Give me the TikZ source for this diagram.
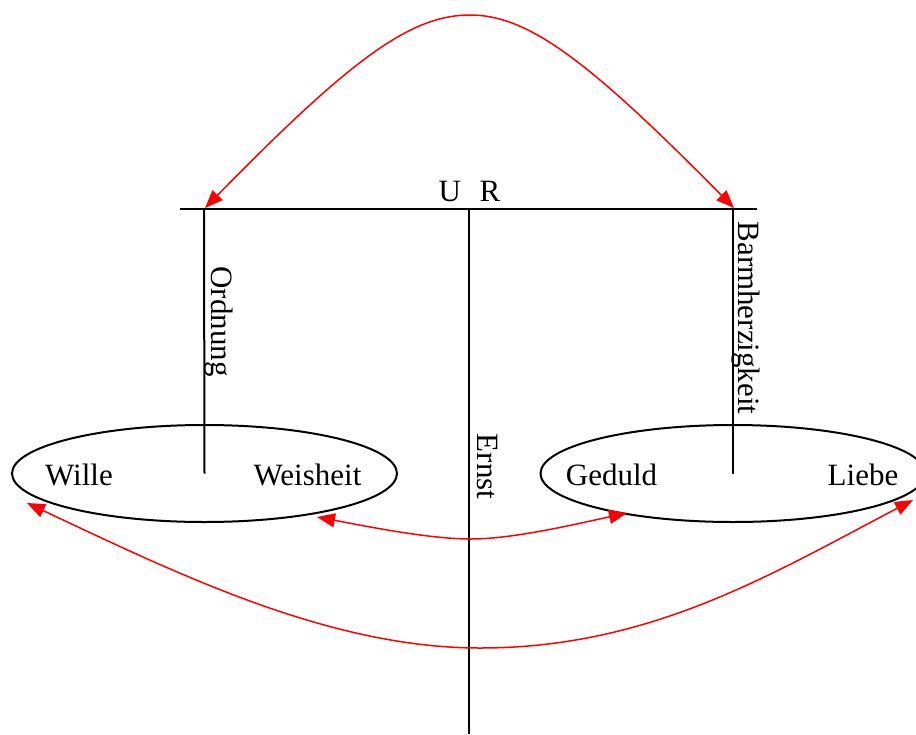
\documentclass[tikz,border=0pt]{standalone}
\usepackage{fontspec}
\setmainfont{Liberation Serif}
\usetikzlibrary{shapes.geometric,arrows.meta}
\begin{document}
\begin{tikzpicture}[x=0.5pt,y=-0.5pt,
  blk/.style={line width=1pt,black},
  oval/.style={ellipse,draw,line width=1pt,inner sep=0pt,outer sep=0pt,minimum width=192.5pt,minimum height=48.5pt},
  lbl/.style={font=\fontsize{15.5}{18}\selectfont,inner sep=0pt,anchor=base},
  vlbl/.style={lbl,rotate=-90},
  rel/.style={red,line width=0.75pt,{Triangle[length=9pt,width=7pt]}-{Triangle[length=9pt,width=7pt]}}]
\clip (0,0) rectangle (916,734);
\useasboundingbox (0,0) rectangle (916,734);
% ellipses
\node[oval] (ell) at (204.5,473.5) {};
\node[oval] (elr) at (733,473.5) {};
% bar and stems
\coordinate (barl) at (180,209);
\coordinate (barr) at (757,209);
\coordinate (topl) at (204,209);
\coordinate (topm) at (469,209);
\coordinate (topr) at (733,209);
\coordinate (botm) at (469,734);
\draw[blk] (barl) -- (barr);
\draw[blk] (topl) -- (ell.center);
\draw[blk] (topr) -- (elr.center);
\draw[blk] (topm) -- (botm);
% labels
\node[lbl] (ur) at (469.5,201) {U\hspace{0.6em}R};
\node[lbl] (wille) at (79,485) {Wille};
\node[lbl] (weis) at (307.5,485) {Weisheit};
\node[lbl] (ged) at (611.5,485) {Geduld};
\node[lbl] (lieb) at (863,485) {Liebe};
\node[vlbl] (ord) at (211,321.5) {Ordnung};
\node[vlbl] (barm) at (738,318) {Barmherzigkeit};
\node[vlbl] (ernst) at (477,466.5) {Ernst};
% arrow end points
\coordinate (al) at (205,208);
\coordinate (ar) at (734,208);
\coordinate (apex) at (470,15);
\coordinate (wt) at (317,517);
\coordinate (gt) at (627,513);
\coordinate (mid) at (471,539);
\coordinate (lt) at (27,503);
\coordinate (rt) at (913,500);
\coordinate (low) at (480,648);
% red arrows
\draw[rel] (al) .. controls (350,60) and (410,15) .. (apex)
                .. controls (528,15) and (588,60) .. (ar);
\draw[rel] (wt) .. controls (370,527) and (430,539) .. (mid)
                .. controls (512,539) and (572,525) .. (gt);
\draw[rel] (lt) .. controls (180,575) and (330,648) .. (low)
                .. controls (650,648) and (770,575) .. (rt);
\end{tikzpicture}
\end{document}
